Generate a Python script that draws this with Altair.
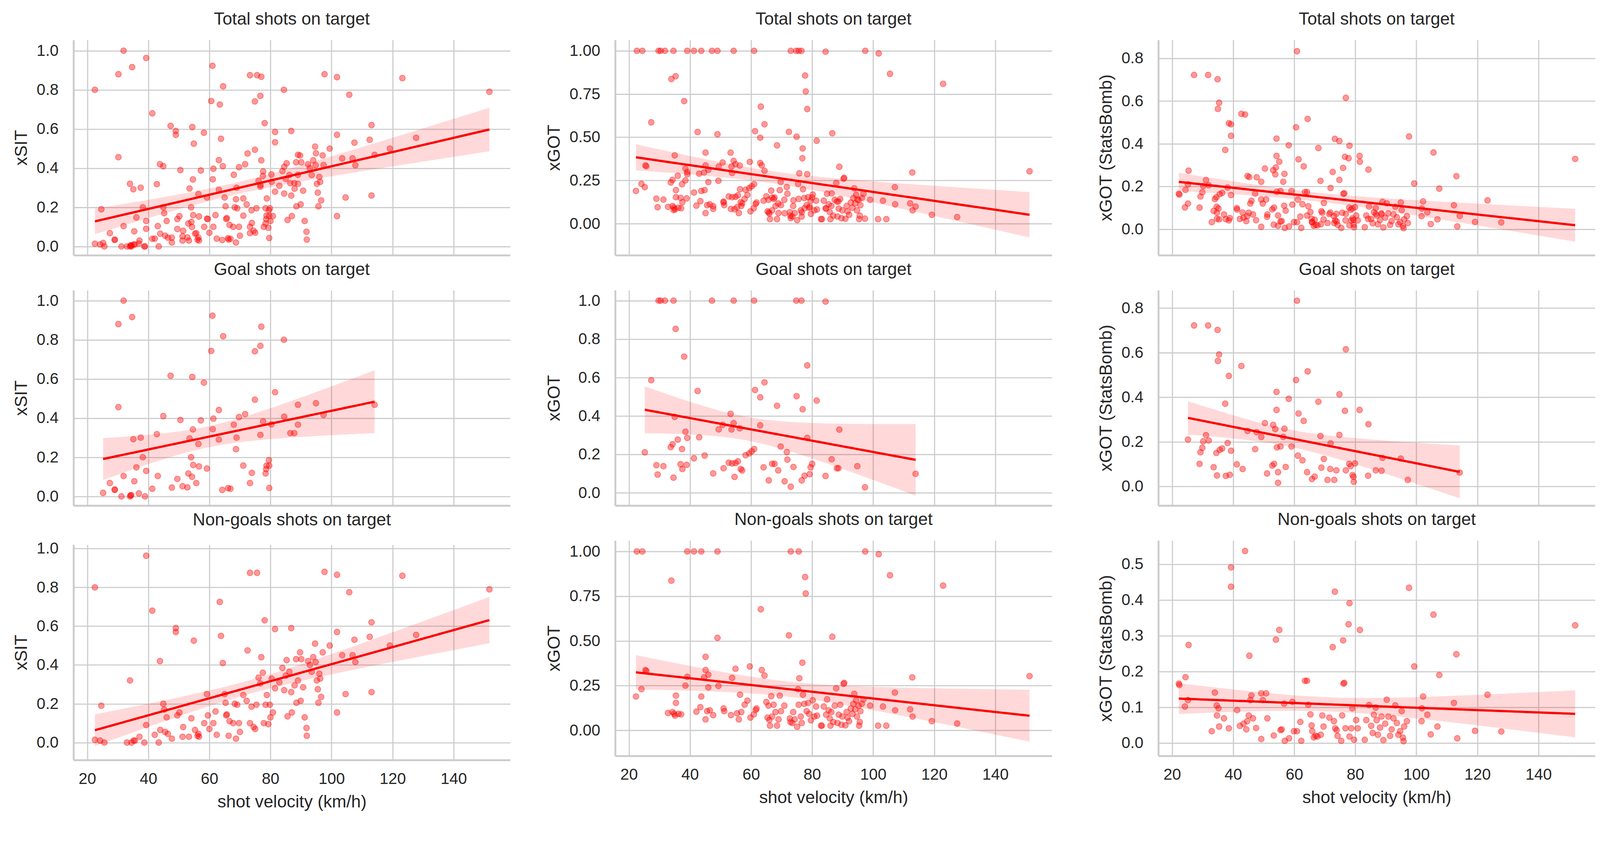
import numpy as np
import pandas as pd
import altair as alt

# ---------------- data ----------------
# Goal shots: xSIT
GOAL_XSIT_V = [25.2, 27.4, 29.0, 29.0, 30.2, 30.2, 31.2, 31.9, 31.9, 34.0, 34.2, 34.4,
               34.7, 35.1, 35.4, 36.1, 36.9, 37.5, 38.2, 38.9, 39.3, 41.3,
               42.8, 43.1, 44.9, 47.3, 47.7, 49.5, 50.5, 51.2, 52.8, 53.1,
               53.5, 54.0, 54.3, 54.4, 54.6, 54.7, 55.7, 56.4, 56.6, 57.2,
               58.2, 59.2, 60.6, 61.0, 61.1, 61.3, 63.1, 63.1, 64.2, 64.5,
               66.1, 66.9, 68.0, 68.7, 68.9, 69.7, 71.1, 71.7, 73.3, 73.9,
               74.9, 74.9, 76.7, 76.7, 77.0, 77.6, 78.4, 78.6, 78.7, 79.5,
               79.6, 79.6, 80.3, 81.5, 84.4, 84.5, 86.5, 87.8, 89.0, 89.0,
               94.9, 97.4, 114.1]
GOAL_XSIT = [0.018, 0.068, 0.033, 0.035, 0.88, 0.456, 0.0, 1.0, 0.104, 0.0, 0.005, 0.006,
             0.916, 0.292, 0.077, 0.148, 0.015, 0.30, 0.20, 0.0, 0.13, 0.039,
             0.318, 0.104, 0.41, 0.616, 0.045, 0.089, 0.39, 0.052, 0.046, 0.117,
             0.296, 0.20, 0.10, 0.61, 0.342, 0.16, 0.068, 0.268, 0.153, 0.388,
             0.581, 0.142, 0.743, 0.923, 0.343, 0.397, 0.441, 0.29, 0.033, 0.818,
             0.042, 0.039, 0.366, 0.241, 0.30, 0.405, 0.157, 0.42, 0.068, 0.12,
             0.494, 0.741, 0.769, 0.314, 0.867, 0.383, 0.117, 0.139, 0.157, 0.185,
             0.043, 0.157, 0.368, 0.532, 0.80, 0.407, 0.323, 0.323, 0.468, 0.366,
             0.476, 0.416, 0.468]

# Non-goal shots: xSIT
NG_XSIT_V = [22.5, 22.5, 24.6, 24.2, 25.6, 33.0, 34.0, 34.5, 35.2, 35.6,
             37.1, 38.7, 39.3, 39.3, 41.3, 42.1, 43.4, 43.8, 43.9, 44.9,
             45.2, 45.5, 46.0, 46.4, 47.7, 49.0, 49.0, 49.5, 50.2, 51.2,
             51.4, 53.3, 54.1, 54.9, 55.3, 56.1, 56.4, 56.6, 58.3, 59.2,
             59.5, 60.0, 61.3, 62.0, 62.4, 63.4, 63.8, 64.4, 65.0, 65.3,
             65.5, 65.7, 66.3, 66.6, 67.8, 68.3, 68.7, 69.1, 69.7, 70.0,
             71.1, 72.2, 72.5, 73.3, 73.3, 73.8, 74.5, 75.0, 75.4, 75.6,
             76.1, 76.7, 77.0, 77.5, 77.8, 78.1, 78.4, 78.8, 79.3, 79.8,
             80.0, 80.4, 80.8, 81.5, 81.5, 82.9, 83.9, 84.5, 85.0, 85.3,
             85.6, 86.2, 86.8, 86.8, 87.0, 87.9, 88.4, 88.5, 89.0, 89.7,
             89.9, 90.1, 90.7, 91.2, 91.8, 91.9, 92.3, 92.9, 93.5, 94.0,
             94.6, 94.8, 95.2, 95.5, 95.7, 96.0, 96.3, 96.6, 97.1, 97.7,
             99.4, 101.8, 101.8, 101.8, 103.5, 104.6, 105.8, 106.9, 107.5, 107.8,
             112.5, 113.1, 113.1, 119.1, 123.2, 127.7, 151.7]
NG_XSIT = [0.80, 0.014, 0.19, 0.01, 0.0, 0.0, 0.32, 0.0, 0.01, 0.01,
           0.03, 0.0, 0.963, 0.09, 0.68, 0.04, 0.0, 0.42, 0.065, 0.20,
           0.17, 0.055, 0.13, 0.045, 0.02, 0.59, 0.57, 0.14, 0.155, 0.03,
           0.08, 0.03, 0.125, 0.525, 0.065, 0.035, 0.045, 0.03, 0.10, 0.25,
           0.14, 0.07, 0.10, 0.16, 0.04, 0.725, 0.55, 0.41, 0.25, 0.205,
           0.14, 0.145, 0.035, 0.11, 0.10, 0.20, 0.02, 0.195, 0.10, 0.055,
           0.245, 0.215, 0.475, 0.10, 0.875, 0.185, 0.08, 0.07, 0.195, 0.875,
           0.335, 0.305, 0.44, 0.36, 0.10, 0.63, 0.195, 0.245, 0.095, 0.195,
           0.13, 0.33, 0.155, 0.585, 0.28, 0.31, 0.385, 0.27, 0.345, 0.425,
           0.135, 0.365, 0.26, 0.59, 0.155, 0.295, 0.43, 0.205, 0.32, 0.465,
           0.215, 0.43, 0.285, 0.13, 0.075, 0.035, 0.42, 0.40, 0.365, 0.44,
           0.51, 0.415, 0.32, 0.275, 0.205, 0.355, 0.33, 0.235, 0.465, 0.88,
           0.50, 0.865, 0.57, 0.155, 0.45, 0.25, 0.775, 0.45, 0.53, 0.415,
           0.545, 0.62, 0.26, 0.50, 0.86, 0.555, 0.79]

# Goal shots: xGOT
GOAL_XGOT_V = [25.2, 27.3, 29.0, 29.4, 29.7, 30.4, 31.3, 31.8, 33.7, 34.3,
               34.6, 34.6, 35.0, 35.3, 36.0, 36.9, 37.4, 37.5, 38.1, 38.5,
               38.9, 39.1, 41.3, 42.5, 43.0, 44.8, 47.2, 47.6, 49.4, 50.7,
               51.0, 52.7, 53.3, 53.6, 53.8, 54.3, 54.3, 54.6, 54.9, 55.7,
               56.3, 56.6, 57.1, 58.2, 59.4, 60.2, 61.0, 61.0, 61.3, 63.0,
               63.0, 64.1, 64.4, 65.8, 66.9, 67.7, 68.5, 68.9, 69.7, 71.0,
               71.7, 71.9, 73.0, 73.9, 74.8, 74.9, 76.5, 76.6, 76.9, 77.5,
               78.4, 78.4, 79.2, 79.5, 80.0, 81.5, 84.4, 84.4, 86.4, 88.1,
               88.6, 88.9, 94.8, 97.3, 113.9]
GOAL_XGOT = [0.211, 0.586, 0.144, 0.095, 1.0, 1.0, 0.139, 1.0, 0.238, 0.253,
             0.079, 1.0, 0.395, 0.853, 0.277, 0.149, 0.228, 0.124, 0.709, 0.318,
             0.146, 0.286, 0.18, 0.53, 0.289, 0.194, 1.0, 0.101, 0.33, 0.354,
             0.128, 0.157, 0.411, 0.33, 0.153, 1.0, 0.363, 0.083, 0.155, 0.164,
             0.336, 0.124, 0.117, 0.196, 0.205, 0.216, 0.228, 1.0, 0.535, 0.351,
             0.497, 0.133, 0.575, 0.065, 0.151, 0.151, 0.453, 0.117, 0.241, 0.06,
             0.212, 0.173, 0.032, 0.135, 1.0, 0.503, 1.0, 0.065, 0.435, 0.089,
             0.663, 0.286, 0.097, 0.133, 0.151, 0.48, 0.995, 0.088, 0.175, 0.128,
             0.128, 0.329, 0.139, 0.029, 0.099]

# Non-goal shots: xGOT
NG_XGOT_V = [22.3, 22.6, 24.4, 24.1, 25.4, 25.7, 32.8, 33.9, 34.3, 34.8,
             35.1, 35.4, 35.4, 36.2, 37.1, 38.5, 39.1, 39.1, 41.3, 42.1,
             43.4, 43.7, 43.7, 44.6, 45.1, 45.1, 45.1, 45.6, 46.0, 46.0,
             46.5, 47.6, 49.0, 49.0, 49.3, 51.0, 51.2, 53.4, 53.8, 54.9,
             55.4, 56.0, 56.4, 56.8, 57.9, 58.8, 59.6, 59.8, 60.9, 61.5,
             61.8, 63.2, 63.5, 64.4, 65.0, 65.4, 65.7, 66.0, 66.2, 66.6,
             66.9, 67.4, 68.0, 68.5, 69.0, 69.4, 69.8, 70.9, 72.4, 72.7,
             72.9, 73.0, 73.5, 73.8, 74.3, 75.1, 75.4, 75.6, 75.6, 75.8,
             76.3, 76.6, 76.8, 77.0, 77.4, 77.7, 77.9, 78.2, 78.7, 79.0,
             79.6, 80.2, 80.7, 81.3, 81.6, 82.9, 83.2, 83.8, 84.6, 84.9,
             85.4, 85.8, 86.0, 86.3, 86.6, 86.9, 87.4, 87.9, 88.3, 88.7,
             89.2, 89.6, 89.9, 90.3, 90.5, 90.9, 91.3, 91.6, 92.1, 92.7,
             93.2, 93.5, 93.8, 94.1, 94.4, 94.7, 95.2, 95.4, 95.6, 95.8,
             96.3, 96.8, 97.4, 99.0, 101.6, 101.8, 103.2, 104.3, 105.5, 107.1,
             107.2, 112.1, 112.8, 112.9, 119.2, 122.9, 127.5, 151.2]
NG_XGOT = [0.189, 1.0, 1.0, 0.23, 0.337, 0.332, 0.097, 0.837, 0.102, 0.092,
           0.082, 0.194, 0.153, 0.092, 0.089, 0.25, 1.0, 0.299, 1.0, 0.104,
           0.13, 0.189, 1.0, 0.296, 0.411, 0.337, 0.061, 0.107, 0.311, 0.24,
           0.112, 0.085, 1.0, 0.517, 0.248, 0.122, 0.107, 0.085, 0.293, 0.344,
           0.095, 0.061, 0.199, 0.102, 0.143, 0.166, 0.357, 0.071, 0.089, 0.114,
           0.122, 0.677, 0.337, 0.306, 0.158, 0.071, 0.138, 0.058, 0.026, 0.191,
           0.077, 0.143, 0.102, 0.026, 0.061, 0.194, 0.107, 0.138, 0.531, 0.066,
           0.046, 1.0, 0.041, 0.102, 0.061, 0.020, 0.23, 1.0, 0.143, 0.291,
           0.077, 0.041, 0.378, 0.199, 0.148, 0.857, 0.765, 0.107, 0.153, 0.092,
           0.056, 0.168, 0.077, 0.133, 0.082, 0.026, 0.026, 0.133, 0.087, 0.173,
           0.112, 0.066, 0.026, 0.102, 0.523, 0.046, 0.138, 0.235, 0.041, 0.087,
           0.143, 0.031, 0.077, 0.26, 0.265, 0.028, 0.102, 0.071, 0.051, 0.122,
           0.092, 0.148, 0.204, 0.117, 0.168, 0.077, 0.138, 0.026, 0.046, 0.107,
           0.148, 0.173, 1.0, 0.138, 0.026, 0.985, 0.133, 0.026, 0.867, 0.211,
           0.112, 0.117, 0.296, 0.077, 0.051, 0.809, 0.038, 0.303]

# Goal shots: xGOT (StatsBomb)
GOAL_SB_V = [25.2, 27.2, 29.0, 29.3, 29.9, 30.2, 31.1, 31.8, 32.0, 33.6,
             34.5, 34.7, 34.9, 35.0, 35.4, 35.6, 36.4, 37.4, 37.6, 38.2,
             38.6, 38.9, 39.3, 41.2, 42.7, 43.1, 44.7, 47.2, 47.7, 49.2,
             50.4, 51.1, 52.8, 53.1, 53.4, 53.8, 54.2, 54.2, 54.3, 54.7,
             54.7, 55.5, 56.4, 56.8, 57.2, 58.2, 59.1, 60.6, 60.9, 61.2,
             61.4, 62.7, 63.1, 64.2, 64.4, 65.8, 66.7, 67.9, 68.6, 68.9,
             69.7, 70.9, 71.8, 71.9, 73.1, 73.8, 74.8, 74.8, 76.6, 76.9,
             76.9, 78.0, 78.5, 79.1, 79.4, 79.5, 79.9, 81.4, 84.2, 84.3,
             86.7, 88.6, 88.9, 94.9, 97.2, 114.2]
GOAL_SB = [0.21, 0.722, 0.101, 0.153, 0.173, 0.202, 0.23, 0.722, 0.206, 0.086,
           0.15, 0.049, 0.702, 0.563, 0.592, 0.164, 0.17, 0.371, 0.047, 0.195,
           0.496, 0.052, 0.16, 0.099, 0.54, 0.078, 0.249, 0.167, 0.243, 0.222,
           0.284, 0.058, 0.093, 0.276, 0.101, 0.257, 0.424, 0.343, 0.175, 0.064,
           0.016, 0.179, 0.222, 0.259, 0.087, 0.393, 0.179, 0.477, 0.833, 0.138,
           0.327, 0.117, 0.294, 0.064, 0.516, 0.033, 0.044, 0.38, 0.226, 0.084,
           0.123, 0.029, 0.078, 0.193, 0.029, 0.072, 0.413, 0.231, 0.339, 0.615,
           0.072, 0.101, 0.091, 0.051, 0.043, 0.021, 0.103, 0.343, 0.048, 0.279,
           0.072, 0.07, 0.128, 0.125, 0.029, 0.062]

# Non-goal shots: xGOT (StatsBomb)
NG_SB_V = [22.2, 22.4, 24.2, 24.4, 25.2, 25.4, 33.0, 34.0, 34.6, 34.7,
           35.2, 35.4, 37.0, 38.6, 39.3, 39.3, 41.3, 42.2, 43.4, 43.9,
           44.3, 44.6, 45.1, 45.3, 45.6, 46.0, 46.5, 47.5, 49.2, 49.2,
           49.7, 50.8, 51.2, 53.3, 54.0, 55.1, 55.5, 55.9, 56.7, 56.9,
           58.3, 59.4, 59.9, 60.9, 62.0, 62.3, 63.5, 64.2, 64.6, 65.3,
           65.7, 65.9, 66.4, 67.0, 67.6, 68.7, 69.2, 69.6, 71.5, 72.6,
           73.0, 73.3, 73.4, 73.9, 74.2, 75.4, 75.7, 76.0, 76.1, 76.4,
           76.8, 77.8, 78.1, 78.1, 78.7, 79.0, 79.6, 80.3, 80.8, 81.5,
           83.1, 83.6, 84.5, 85.2, 85.7, 86.1, 86.7, 87.0, 87.4, 88.1,
           88.6, 89.2, 89.8, 90.3, 90.8, 91.4, 91.9, 92.5, 93.1, 93.6,
           94.1, 94.7, 95.2, 95.6, 95.8, 96.0, 96.9, 97.6, 99.3, 101.7,
           101.8, 102.2, 103.6, 104.7, 105.6, 106.9, 107.5, 112.3, 113.1, 113.4,
           119.2, 123.3, 127.8, 152.0]
NG_SB = [0.166, 0.162, 0.102, 0.184, 0.12, 0.274, 0.033, 0.141, 0.105, 0.077,
         0.097, 0.046, 0.069, 0.041, 0.491, 0.437, 0.092, 0.048, 0.054, 0.537,
         0.038, 0.061, 0.077, 0.244, 0.12, 0.133, 0.069, 0.042, 0.011, 0.139,
         0.12, 0.139, 0.069, 0.021, 0.289, 0.316, 0.036, 0.038, 0.11, 0.006,
         0.013, 0.115, 0.033, 0.033, 0.059, 0.006, 0.174, 0.174, 0.107, 0.08,
         0.049, 0.033, 0.016, 0.02, 0.018, 0.023, 0.077, 0.046, 0.071, 0.268,
         0.061, 0.423, 0.041, 0.036, 0.02, 0.006, 0.077, 0.287, 0.166, 0.168,
         0.041, 0.332, 0.391, 0.018, 0.041, 0.097, 0.009, 0.064, 0.041, 0.316,
         0.009, 0.064, 0.106, 0.048, 0.028, 0.079, 0.099, 0.064, 0.023, 0.043,
         0.074, 0.008, 0.054, 0.121, 0.074, 0.02, 0.038, 0.069, 0.105, 0.056,
         0.023, 0.033, 0.089, 0.015, 0.005, 0.046, 0.061, 0.434, 0.214, 0.061,
         0.097, 0.13, 0.079, 0.024, 0.359, 0.046, 0.19, 0.112, 0.248, 0.013,
         0.034, 0.135, 0.032, 0.329]

ROW_TITLES = ["Total shots on target", "Goal shots on target", "Non-goals shots on target"]
Y_TITLES = ["xSIT", "xGOT", "xGOT (StatsBomb)"]
X_TITLE = "shot velocity (km/h)"
X_TICKS = [20, 40, 60, 80, 100, 120, 140]

# ---------------- styling ----------------
FONT = "Liberation Sans"
TEXT = "#262626"
GRID = "#cccccc"
RED = "#ff0000"
PANEL_W, PANEL_H = 1160, 572
X_DOMAIN = [15.5, 158.5]

# y-axis scale settings per [row][column]
Y_DOMAINS = [[[-0.045, 1.055], [-0.183, 1.063], [-0.122, 0.886]],
             [[-0.047, 1.053], [-0.066, 1.054], [-0.086, 0.880]],
             [[-0.090, 1.020], [-0.143, 1.061], [-0.036, 0.566]]]
STEP2 = [0.0, 0.2, 0.4, 0.6, 0.8, 1.0]
STEP25 = [0.0, 0.25, 0.5, 0.75, 1.0]
Y_TICKS = [[STEP2, STEP25, STEP2[:5]],
           [STEP2, STEP2, STEP2[:5]],
           [STEP2, STEP25, [0.0, 0.1, 0.2, 0.3, 0.4, 0.5]]]
Y_FMT = [[".1f", ".2f", ".1f"],
         [".1f", ".1f", ".1f"],
         [".1f", ".2f", ".1f"]]
Y_EXTENT = [98, 122, 98]


def fit_band(v, y, n=100):
    v = np.asarray(v, float)
    y = np.asarray(y, float)
    slope, icpt = np.polyfit(v, y, 1)
    xs = np.linspace(v.min(), v.max(), n)
    yhat = icpt + slope * xs
    resid = y - (icpt + slope * v)
    s = np.sqrt((resid ** 2).sum() / (len(v) - 2))
    sxx = ((v - v.mean()) ** 2).sum()
    se = s * np.sqrt(1.0 / len(v) + (xs - v.mean()) ** 2 / sxx)
    return pd.DataFrame({"v": xs, "fit": yhat, "lo": yhat - 1.97 * se, "hi": yhat + 1.97 * se})


def panel(v, y, r, c):
    assert len(v) == len(y)
    pts = pd.DataFrame({"v": v, "y": y})
    fit = fit_band(v, y)
    bottom = (r == 2)
    xscale = alt.Scale(domain=X_DOMAIN, nice=False, zero=False)
    yscale = alt.Scale(domain=Y_DOMAINS[r][c], nice=False, zero=False)
    if bottom:
        xaxis = alt.Axis(values=X_TICKS, format="d", title=X_TITLE)
    else:
        xaxis = alt.Axis(values=X_TICKS, labels=False, title=None)
    yaxis = alt.Axis(values=Y_TICKS[r][c], format=Y_FMT[r][c], title=Y_TITLES[c],
                     minExtent=Y_EXTENT[c], maxExtent=Y_EXTENT[c])
    points = alt.Chart(pts).mark_circle(
        size=240, fill=RED, stroke=RED, fillOpacity=0.4, strokeOpacity=0.4,
        strokeWidth=2, opacity=1, clip=True
    ).encode(
        x=alt.X("v:Q", scale=xscale, axis=xaxis),
        y=alt.Y("y:Q", scale=yscale, axis=yaxis),
    )
    band = alt.Chart(fit).mark_area(fill=RED, fillOpacity=0.15, strokeWidth=0, clip=True).encode(
        x=alt.X("v:Q", scale=xscale, axis=xaxis),
        y=alt.Y("lo:Q", scale=yscale, axis=yaxis),
        y2="hi:Q",
    )
    line = alt.Chart(fit).mark_line(color=RED, strokeWidth=6, clip=True).encode(
        x=alt.X("v:Q", scale=xscale, axis=xaxis),
        y=alt.Y("fit:Q", scale=yscale, axis=yaxis),
    )
    return alt.layer(points, band, line).properties(
        width=PANEL_W, height=PANEL_H, title=ROW_TITLES[r]
    )


metrics = [
    (GOAL_XSIT_V, GOAL_XSIT, NG_XSIT_V, NG_XSIT),
    (GOAL_XGOT_V, GOAL_XGOT, NG_XGOT_V, NG_XGOT),
    (GOAL_SB_V, GOAL_SB, NG_SB_V, NG_SB),
]

columns = []
for c, (gv, gy, nv, ny) in enumerate(metrics):
    rows_data = [(list(gv) + list(nv), list(gy) + list(ny)), (gv, gy), (nv, ny)]
    panels = [panel(v, y, r, c) for r, (v, y) in enumerate(rows_data)]
    columns.append(alt.vconcat(*panels, spacing=15))

chart = alt.hconcat(
    columns[0],
    alt.hconcat(columns[1], columns[2], spacing=122),
    spacing=94,
).properties(
    padding={"left": 26, "top": -20, "right": 5, "bottom": 5},
    background="white",
).configure(
    font=FONT,
).configure_view(
    stroke=None,
).configure_axis(
    grid=True, gridColor=GRID, gridWidth=3,
    domain=True, domainColor=GRID, domainWidth=5,
    ticks=False, tickSize=0,
    labelFont=FONT, labelFontSize=42, labelColor=TEXT,
    titleFont=FONT, titleFontSize=46, titleColor=TEXT, titleFontWeight="normal",
).configure_axisX(
    labelPadding=30, titlePadding=18,
).configure_axisY(
    labelPadding=40, titlePadding=16,
).configure_title(
    font=FONT, fontSize=46, color=TEXT, fontWeight="normal",
    anchor="middle", baseline="alphabetic", offset=31,
)

chart.save("out.html", embed_options={"renderer": "svg", "actions": False})
